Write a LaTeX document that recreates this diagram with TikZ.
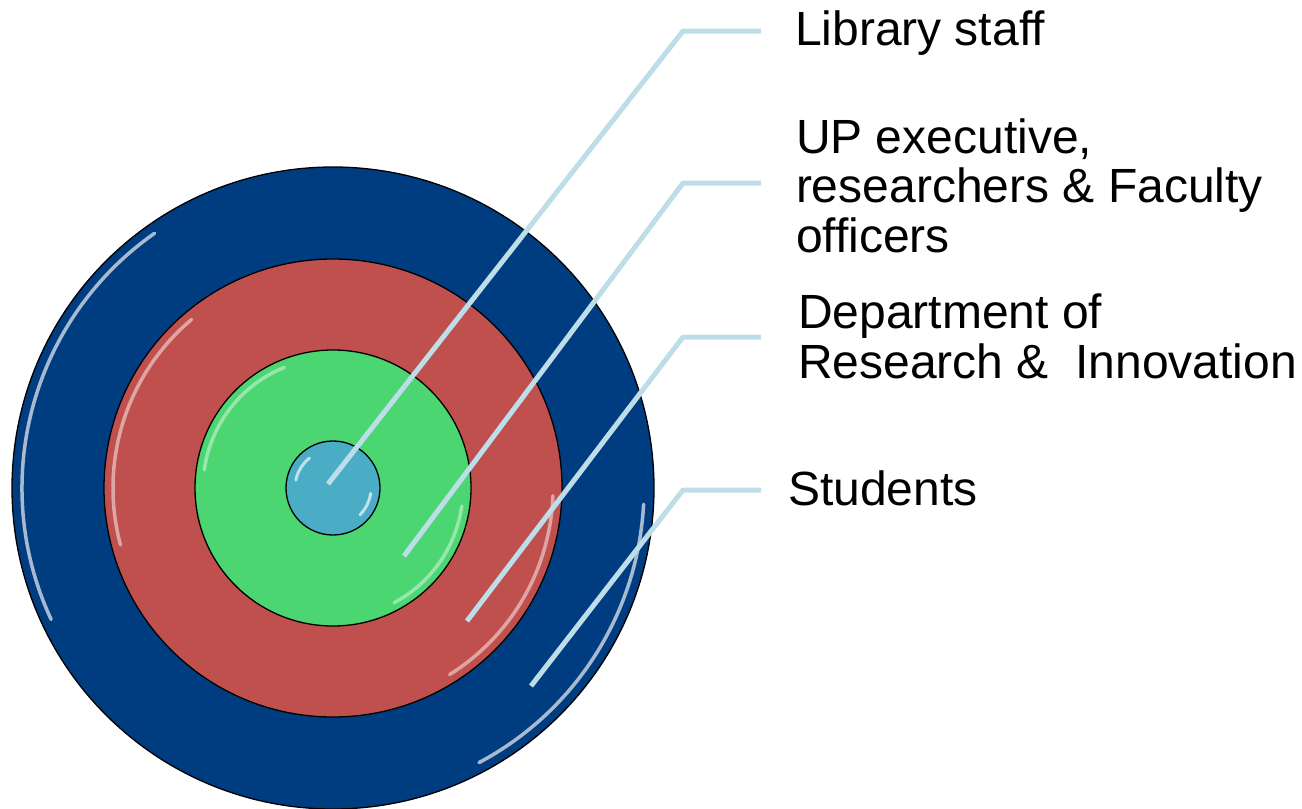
\documentclass[tikz,border=0pt]{standalone}
\usepackage{fontspec}
\setmainfont{Liberation Sans}
\definecolor{ringblue}{RGB}{0,61,128}
\definecolor{ringred}{RGB}{192,80,77}
\definecolor{ringgreen}{RGB}{75,214,114}
\definecolor{coreblue}{RGB}{75,172,198}
\definecolor{leadercol}{RGB}{189,221,232}
\begin{document}
\begin{tikzpicture}[x=1pt,y=-1pt,
  ring/.style={circle, draw=black, line width=1.3pt, inner sep=0pt, outer sep=0pt},
  leaderline/.style={draw=leadercol, line width=5pt, line join=round},
  txt/.style={anchor=base west, inner sep=0pt, outer sep=0pt, font=\fontsize{48}{49.5}\selectfont, align=left},
  gloss/.style={draw=white, line width=3.5pt, line cap=round, opacity=0.65}]
\useasboundingbox (0,0) rectangle (1302,809);
% rings
\node[ring, fill=ringblue,  minimum size=642pt] (outer) at (333,488) {};
\node[ring, fill=ringred,   minimum size=458pt] (redring) at (333,488) {};
\node[ring, fill=ringgreen, minimum size=276pt] (greenring) at (333,488) {};
\node[ring, fill=coreblue,  minimum size=94pt]  (core) at (333,488) {};
% gloss highlights
\draw[gloss] ([shift={(125:311pt)}]outer.center) arc[start angle=125, end angle=205, radius=311pt];
\draw[gloss] ([shift={(-3:311pt)}]outer.center) arc[start angle=-3, end angle=-62, radius=311pt];
\draw[gloss, draw=white!75!ringred] ([shift={(130:220pt)}]redring.center) arc[start angle=130, end angle=195, radius=220pt];
\draw[gloss, draw=white!75!ringred] ([shift={(-2:220pt)}]redring.center) arc[start angle=-2, end angle=-58, radius=220pt];
\draw[gloss, draw=white!65!ringgreen] ([shift={(112:130pt)}]greenring.center) arc[start angle=112, end angle=172, radius=130pt];
\draw[gloss, draw=white!65!ringgreen] ([shift={(-8:130pt)}]greenring.center) arc[start angle=-8, end angle=-62, radius=130pt];
\draw[gloss, line width=3pt] ([shift={(128:38pt)}]core.center) arc[start angle=128, end angle=168, radius=38pt];
\draw[gloss, line width=3pt] ([shift={(-8:38pt)}]core.center) arc[start angle=-8, end angle=-45, radius=38pt];
% labels (base anchor = baseline of the last line)
\node[txt] (lib) at (795,45.5) {Library staff};
\node[txt] (up) at (796,252) {UP executive,\\researchers \& Faculty\\officers};
\node[txt] (dri) at (798,378) {Department of\\Research \&\ \ Innovation};
\node[txt] (stu) at (788,505) {Students};
% leader coordinates
\coordinate (e1) at (328,484); \coordinate (k1) at (683,31);  \coordinate (h1) at (761,31);
\coordinate (e2) at (404,556); \coordinate (k2) at (683,183); \coordinate (h2) at (761,183);
\coordinate (e3) at (467,621); \coordinate (k3) at (683,337); \coordinate (h3) at (761,337);
\coordinate (e4) at (531,686); \coordinate (k4) at (683,490); \coordinate (h4) at (761,490);
\draw[leaderline] (e1) -- (k1) -- (h1);
\draw[leaderline] (e2) -- (k2) -- (h2);
\draw[leaderline] (e3) -- (k3) -- (h3);
\draw[leaderline] (e4) -- (k4) -- (h4);
\end{tikzpicture}
\end{document}
